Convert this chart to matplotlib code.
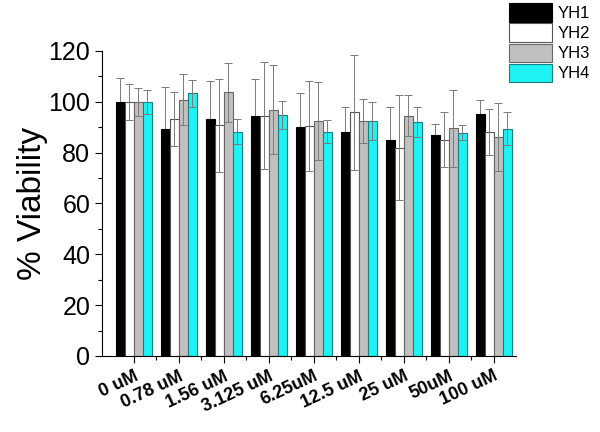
import numpy as np
import matplotlib
matplotlib.use("Agg")
import matplotlib.pyplot as plt
from matplotlib.ticker import MultipleLocator

plt.rcParams['font.family'] = ['Liberation Sans', 'DejaVu Sans']

# 濃度ラベルと各系列の値 (% viability, 平均 / SD)
doses = ['0 uM', '0.78 uM', '1.56 uM', '3.125 uM', '6.25uM', '12.5 uM', '25 uM', '50uM', '100 uM']
series = ['YH1', 'YH2', 'YH3', 'YH4']

yh1_mean = [100, 89.4, 93.3, 94.6, 90.0, 88.0, 85.0, 87.0, 95.3]
yh1_sd = [9.3, 16.4, 14.7, 14.4, 13.4, 9.8, 12.8, 4.2, 5.5]
yh2_mean = [100, 93.3, 90.7, 94.6, 90.3, 95.9, 82.0, 85.0, 88.1]
yh2_sd = [7.0, 10.6, 18.2, 21.0, 17.7, 22.6, 20.5, 10.8, 9.0]
yh3_mean = [100, 100.8, 103.7, 96.9, 92.5, 92.5, 94.5, 89.6, 86.1]
yh3_sd = [5.4, 10.1, 11.5, 17.4, 15.2, 8.7, 8.0, 15.1, 13.4]
yh4_mean = [100, 103.4, 88.3, 94.9, 88.3, 92.5, 91.9, 87.9, 89.4]
yh4_sd = [4.7, 5.3, 5.0, 5.6, 4.6, 7.6, 5.9, 2.8, 6.5]

means = [yh1_mean, yh2_mean, yh3_mean, yh4_mean]
sds = [yh1_sd, yh2_sd, yh3_sd, yh4_sd]
fills = ['#000000', '#ffffff', '#c0c0c0', '#1ff2f2']
edges = ['#000000', '#555555', '#666666', '#1a7f80']

fig = plt.figure(figsize=(6, 4.32), dpi=100)
ax = fig.add_axes([0.17, 0.176, 0.69, 0.706])

x = np.arange(len(doses))
w = 0.2
for i in range(4):
    pos = x + (i - 1.5) * w
    ax.bar(pos, means[i], width=w, color=fills[i], edgecolor=edges[i],
           linewidth=0.8, label=series[i], zorder=2)
    # 黒バーの下側エラーバーは見えないので背面に
    ax.errorbar(pos, means[i], yerr=sds[i], fmt='none', ecolor='#7a7a7a',
                elinewidth=0.7, capsize=3, capthick=0.7,
                zorder=1 if i == 0 else 3)

ax.set_xlim(-0.7, 8.5)
ax.set_ylim(0, 120)
ax.spines['top'].set_visible(False)
ax.spines['right'].set_visible(False)

ax.yaxis.set_major_locator(MultipleLocator(20))
ax.yaxis.set_minor_locator(MultipleLocator(10))
ax.set_xticks(x)
ax.set_xticks(x[:-1] + 0.5, minor=True)
ax.tick_params(which='major', direction='out', length=5, width=0.8)
ax.tick_params(which='minor', direction='out', length=3, width=0.8)
ax.tick_params(axis='y', labelsize=18)

ax.set_xticklabels(doses, rotation=25, ha='right', rotation_mode='anchor',
                   fontsize=13, fontweight='bold')
ax.set_ylabel('% Viability', fontsize=24, labelpad=0)

fig.legend(loc='upper left', bbox_to_anchor=(0.848, 0.992), frameon=False,
           fontsize=12, handlelength=2.6, handleheight=1.35, labelspacing=0.08,
           handletextpad=0.35, borderaxespad=0, borderpad=0)

fig.savefig('out.png', dpi=100)
